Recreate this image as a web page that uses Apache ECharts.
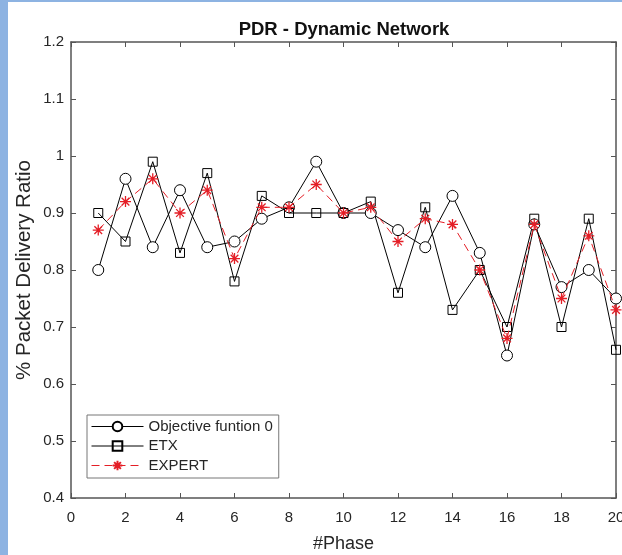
<!DOCTYPE html>
<html lang="en">
	<head>
		<meta charset="UTF-8">
		<title>PDR - Dynamic Network</title>
		<style>
			html, body { margin: 0; padding: 0; background: #8db3e2; }
			#chart { position: absolute; left: 8px; top: 2px; width: 614px; height: 553px; background: #fff; }
		</style>
	</head>
	<body>
		<div id="chart"></div>
	</body>
	<script src="https://cdn.jsdelivr.net/npm/echarts@6/dist/echarts.min.js"></script>
	<script>
		var phases = [1, 2, 3, 4, 5, 6, 7, 8, 9, 10, 11, 12, 13, 14, 15, 16, 17, 18, 19, 20]
		var objective = [0.80, 0.96, 0.84, 0.94, 0.84, 0.85, 0.89, 0.91, 0.99, 0.90, 0.90, 0.87, 0.84, 0.93, 0.83, 0.65, 0.88, 0.77, 0.80, 0.75]
		var etx = [0.90, 0.85, 0.99, 0.83, 0.97, 0.78, 0.93, 0.90, 0.90, 0.90, 0.92, 0.76, 0.91, 0.73, 0.80, 0.70, 0.89, 0.70, 0.89, 0.66]
		var expert = [0.87, 0.92, 0.96, 0.90, 0.94, 0.82, 0.91, 0.91, 0.95, 0.90, 0.91, 0.85, 0.89, 0.88, 0.80, 0.68, 0.88, 0.75, 0.86, 0.73]

		function pairs (ys) {
			return phases.map(function (x, i) { return [x, ys[i]] })
		}

		var axisColor = '#555'
		var textColor = '#262626'
		var font = 'Liberation Sans, Arial, sans-serif'
		var star = 'path://M0,-10L0,10M-10,0L10,0M-7,-7L7,7M-7,7L7,-7'

		var chart = echarts.init(document.getElementById('chart'))

		var xBase = {
			type: 'value', min: 0, max: 20, interval: 2,
			axisLine: { onZero: false, lineStyle: { color: axisColor, width: 1.5 } },
			axisTick: { inside: true, length: 5, lineStyle: { color: axisColor } },
			splitLine: { show: false }
		}
		var yBase = {
			type: 'value', min: 0.4, max: 1.2, interval: 0.1,
			axisLine: { show: true, onZero: false, lineStyle: { color: axisColor, width: 1.5 } },
			axisTick: { show: true, inside: true, length: 5, lineStyle: { color: axisColor } },
			splitLine: { show: false }
		}

		var option = {
			backgroundColor: '#fff',
			animation: false,
			textStyle: { fontFamily: font },
			title: {
				text: 'PDR - Dynamic Network',
				left: 331, top: 13, textAlign: 'center',
				textStyle: { fontSize: 18.5, fontWeight: 'bold', color: '#111', fontFamily: font }
			},
			grid: { left: 63, right: 6, top: 40, bottom: 57, containLabel: false, outerBoundsMode: 'none' },
			legend: {
				orient: 'vertical',
				left: 79, top: 413,
				backgroundColor: '#fff',
				borderColor: '#777', borderWidth: 1,
				padding: [4, 6, 5, 4],
				itemWidth: 52, itemHeight: 12, itemGap: 4.5,
				lineStyle: { width: 1 },
				textStyle: { fontSize: 15, color: textColor, fontFamily: font },
				data: ['Objective funtion 0', 'ETX', 'EXPERT']
			},
			xAxis: [
				Object.assign({}, xBase, {
					position: 'bottom',
					name: '#Phase', nameLocation: 'middle', nameGap: 37, nameMoveOverlap: false,
					nameTextStyle: { fontSize: 18, color: textColor, fontFamily: font },
					axisLabel: { fontSize: 15, color: textColor, margin: 12, fontFamily: font }
				}),
				Object.assign({}, xBase, { position: 'top', axisLabel: { show: false } })
			],
			yAxis: [
				Object.assign({}, yBase, {
					position: 'left',
					name: '% Packet Delivery Ratio', nameLocation: 'middle', nameGap: 36, nameMoveOverlap: false,
					nameTextStyle: { fontSize: 20.5, color: textColor, fontFamily: font },
					axisLabel: { fontSize: 15, color: textColor, margin: 7, fontFamily: font }
				}),
				Object.assign({}, yBase, { position: 'right', axisLabel: { show: false } })
			],
			series: [
				{
					name: 'Objective funtion 0', type: 'line',
					data: pairs(objective),
					symbol: 'circle', symbolSize: 11,
					lineStyle: { color: '#000', width: 1 },
					itemStyle: { color: '#fff', borderColor: '#000', borderWidth: 1 },
					z: 3
				},
				{
					name: 'ETX', type: 'line',
					data: pairs(etx),
					symbol: 'rect', symbolSize: 9,
					lineStyle: { color: '#000', width: 1 },
					itemStyle: { color: 'rgba(255,255,255,0)', borderColor: '#000', borderWidth: 1 },
					z: 3
				},
				{
					name: 'EXPERT', type: 'line',
					data: pairs(expert),
					symbol: star, symbolSize: 11,
					lineStyle: { color: '#e41e26', width: 1, type: [8, 5] },
					itemStyle: { color: 'none', borderColor: '#e41e26', borderWidth: 1.3 },
					z: 4
				}
			]
		}

		chart.setOption(option)
	</script>
</html>
